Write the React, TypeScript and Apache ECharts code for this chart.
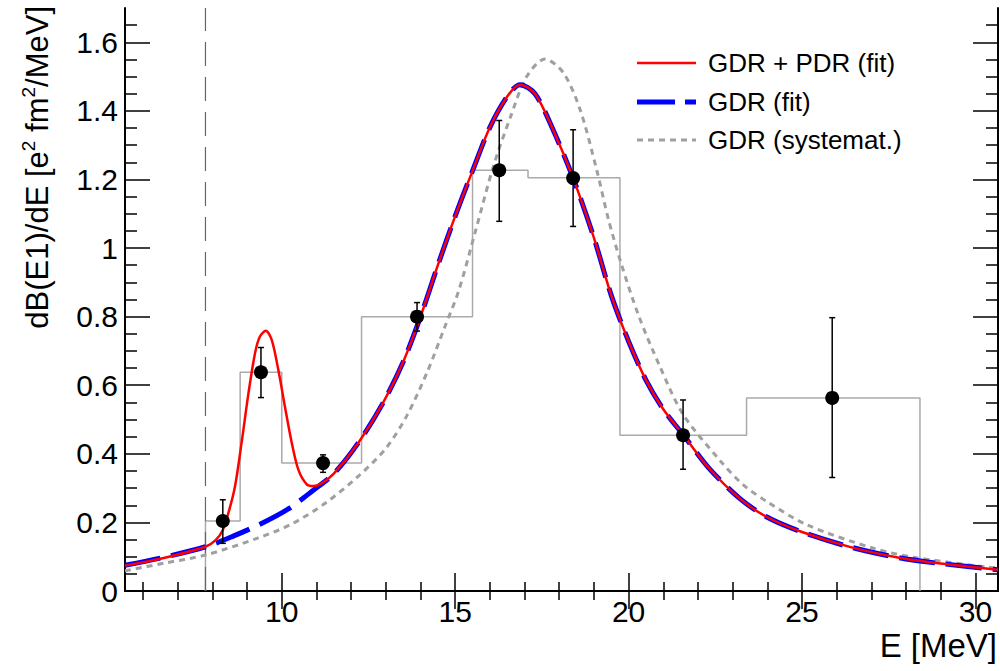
import React, { useEffect, useRef } from "react";
import * as echarts from "echarts";

const X_MIN = 5.48;
const X_MAX = 30.65;
const Y_MIN = 0;
const Y_MAX = 1.7;

const xMajorTicks = [10, 15, 20, 25, 30];
const xMinorTicks = [6, 7, 8, 9, 11, 12, 13, 14, 16, 17, 18, 19, 21, 22, 23, 24, 26, 27, 28, 29];
const yMajorTicks = [0, 0.2, 0.4, 0.6, 0.8, 1, 1.2, 1.4, 1.6];
const yMinorTicks = [0.05, 0.1, 0.15, 0.25, 0.3, 0.35, 0.45, 0.5, 0.55, 0.65, 0.7, 0.75, 0.85, 0.9, 0.95, 1.05, 1.1, 1.15, 1.25, 1.3, 1.35, 1.45, 1.5, 1.55, 1.65];

// Histogram (bin edges and contents)
const binEdges = [7.8, 8.8, 10.0, 12.3, 15.5, 17.1, 19.75, 23.4, 28.4];
const binValues = [0.204, 0.638, 0.373, 0.8, 1.227, 1.205, 0.454, 0.563];

// Data points with error bars
const pointE = [8.3, 9.4, 11.19, 13.9, 16.27, 18.4, 21.57, 25.87];
const pointV = [0.204, 0.638, 0.373, 0.8, 1.227, 1.204, 0.454, 0.563];
const errLow = [0.139, 0.564, 0.346, 0.758, 1.078, 1.063, 0.355, 0.331];
const errHigh = [0.266, 0.71, 0.397, 0.841, 1.372, 1.345, 0.557, 0.797];

// Threshold energy (vertical dashed line)
const thresholdE = 7.8;

// GDR (fit)
const gdrE = [5.48, 6.5, 7.8, 8.6, 9.4, 10.2, 10.9, 11.5, 12.2, 12.9, 13.5, 14.0, 14.5, 15.0, 15.5, 16.0, 16.5, 16.87, 17.3, 17.8, 18.4, 19.0, 19.5, 20.0, 20.5, 21.0, 21.6, 22.3, 23.2, 24.0, 25.0, 26.4, 27.8, 29.0, 30.65];
const gdrV = [0.075, 0.096, 0.129, 0.16, 0.196, 0.24, 0.293, 0.342, 0.431, 0.545, 0.668, 0.8, 0.95, 1.093, 1.225, 1.352, 1.442, 1.4765, 1.45, 1.35, 1.204, 1.03, 0.862, 0.728, 0.615, 0.53, 0.452, 0.36, 0.27, 0.215, 0.172, 0.128, 0.097, 0.08, 0.062];

// GDR + PDR (fit)
const totE = [5.48, 6.5, 7.8, 8.1, 8.3, 8.46, 8.65, 8.84, 9.04, 9.23, 9.37, 9.54, 9.71, 9.9, 10.09, 10.29, 10.48, 10.72, 10.91, 11.15, 11.5, 12.2, 12.9, 13.5, 14.0, 14.5, 15.0, 15.5, 16.0, 16.5, 16.87, 17.3, 17.8, 18.4, 19.0, 19.5, 20.0, 20.5, 21.0, 21.6, 22.3, 23.2, 24.0, 25.0, 26.4, 27.8, 29.0, 30.65];
const totV = [0.074, 0.094, 0.129, 0.149, 0.178, 0.227, 0.304, 0.431, 0.577, 0.694, 0.742, 0.759, 0.732, 0.645, 0.538, 0.431, 0.353, 0.311, 0.306, 0.314, 0.342, 0.431, 0.545, 0.668, 0.8, 0.95, 1.093, 1.225, 1.352, 1.442, 1.4765, 1.45, 1.35, 1.204, 1.03, 0.862, 0.728, 0.615, 0.53, 0.452, 0.36, 0.27, 0.215, 0.172, 0.128, 0.097, 0.08, 0.062];

// GDR (systematics)
const sysE = [5.48, 6.6, 7.8, 9.3, 10.3, 11.25, 12.2, 13.0, 13.6, 14.2, 14.7, 15.1, 15.6, 16.1, 16.6, 17.06, 17.59, 18.12, 18.6, 19.08, 19.42, 19.8, 20.3, 20.9, 21.57, 22.64, 23.3, 24.0, 25.14, 27.06, 28.3, 30.65];
const sysV = [0.059, 0.081, 0.105, 0.154, 0.196, 0.256, 0.334, 0.416, 0.51, 0.64, 0.77, 0.875, 1.055, 1.238, 1.384, 1.5, 1.551, 1.511, 1.404, 1.228, 1.083, 0.95, 0.8, 0.655, 0.515, 0.38, 0.31, 0.26, 0.193, 0.1245, 0.097, 0.066];

const legendLabels = ["GDR + PDR (fit)", "GDR (fit)", "GDR (systemat.)"];

const FONT = '"Liberation Sans", Arial, Helvetica, sans-serif';

export default function App() {
  const ref = useRef<HTMLDivElement>(null);

  useEffect(() => {
    if (!ref.current) return;
    const chart = echarts.init(ref.current, undefined, { renderer: "svg" });

    const histData: number[][] = [[binEdges[0], 0]];
    for (let i = 0; i < binValues.length; i++) {
      histData.push([binEdges[i], binValues[i]]);
      histData.push([binEdges[i + 1], binValues[i]]);
    }
    histData.push([binEdges[binEdges.length - 1], 0]);

    const tickStyle = { color: "#000", width: 1.5 };
    const baseX = { type: "value", min: X_MIN, max: X_MAX, splitLine: { show: false } };
    const baseY = { type: "value", min: Y_MIN, max: Y_MAX, splitLine: { show: false } };

    const legendY = [63, 102, 140];
    const legendStyles = [
      { stroke: "#ff0000", lineWidth: 2.5 },
      { stroke: "#0000ff", lineWidth: 5, lineDash: [38, 10] },
      { stroke: "#a0a0a0", lineWidth: 3, lineDash: [6, 5] },
    ];
    const legendGraphics: any[] = [];
    legendLabels.forEach((lab, i) => {
      legendGraphics.push({
        type: "line",
        shape: { x1: 637, y1: legendY[i], x2: 696, y2: legendY[i] },
        style: legendStyles[i],
        z: 100,
      });
      legendGraphics.push({
        type: "text",
        x: 708,
        y: legendY[i],
        style: { text: lab, fontSize: 26, fontFamily: FONT, fill: "#000", verticalAlign: "middle", align: "left" },
        z: 100,
      });
    });

    const option: any = {
      animation: false,
      grid: { left: 125, right: 2, top: 8, bottom: 80, containLabel: false },
      xAxis: [
        {
          ...baseX,
          position: "bottom",
          axisLine: { show: true, lineStyle: { color: "#000", width: 2 } },
          axisTick: { show: true, inside: true, length: 18, customValues: xMajorTicks, lineStyle: tickStyle },
          axisLabel: { show: true, customValues: xMajorTicks, fontSize: 30, fontFamily: FONT, color: "#000", margin: 5 },
        },
        {
          ...baseX,
          position: "bottom",
          axisLine: { show: false },
          axisTick: { show: true, inside: true, length: 9, customValues: xMinorTicks, lineStyle: tickStyle },
          axisLabel: { show: false },
        },
        {
          ...baseX,
          position: "top",
          axisLine: { show: true, lineStyle: { color: "#000", width: 2 } },
          axisTick: { show: true, inside: true, length: 18, customValues: xMajorTicks, lineStyle: tickStyle },
          axisLabel: { show: false },
        },
        {
          ...baseX,
          position: "top",
          axisLine: { show: false },
          axisTick: { show: true, inside: true, length: 9, customValues: xMinorTicks, lineStyle: tickStyle },
          axisLabel: { show: false },
        },
      ],
      yAxis: [
        {
          ...baseY,
          position: "left",
          axisLine: { show: true, lineStyle: { color: "#000", width: 2 } },
          axisTick: { show: true, inside: true, length: 25, customValues: yMajorTicks, lineStyle: tickStyle },
          axisLabel: {
            show: true,
            customValues: yMajorTicks,
            fontSize: 30,
            fontFamily: FONT,
            color: "#000",
            margin: 7,
            formatter: (v: number) => String(v),
          },
        },
        {
          ...baseY,
          position: "left",
          axisLine: { show: false },
          axisTick: { show: true, inside: true, length: 12, customValues: yMinorTicks, lineStyle: tickStyle },
          axisLabel: { show: false },
        },
        {
          ...baseY,
          position: "right",
          axisLine: { show: true, lineStyle: { color: "#000", width: 2 } },
          axisTick: { show: true, inside: true, length: 25, customValues: yMajorTicks, lineStyle: tickStyle },
          axisLabel: { show: false },
        },
        {
          ...baseY,
          position: "right",
          axisLine: { show: false },
          axisTick: { show: true, inside: true, length: 12, customValues: yMinorTicks, lineStyle: tickStyle },
          axisLabel: { show: false },
        },
      ],
      graphic: [
        {
          type: "text",
          x: 36,
          y: 6,
          rotation: Math.PI / 2,
          style: {
            text: "{n|dB(E1)/dE [e}{s|2}{n| fm}{s|2}{n|/MeV]}",
            align: "right",
            verticalAlign: "middle",
            fill: "#000",
            rich: {
              n: { fontSize: 31, fontFamily: FONT, fill: "#000", lineHeight: 34, verticalAlign: "bottom" },
              s: { fontSize: 19, fontFamily: FONT, fill: "#000", lineHeight: 34, verticalAlign: "top" },
            },
          },
        },
        {
          type: "text",
          right: 3,
          top: 629,
          style: { text: "E [MeV]", fontSize: 33, fontFamily: FONT, fill: "#000" },
        },
        ...legendGraphics,
      ],
      series: [
        {
          type: "line",
          name: "hist",
          data: histData,
          showSymbol: false,
          symbol: "none",
          lineStyle: { color: "#aaaaaa", width: 1.5 },
          z: 1,
        },
        {
          type: "line",
          name: "threshold",
          data: [[thresholdE, Y_MIN], [thresholdE, Y_MAX]],
          symbol: "none",
          lineStyle: { color: "#666666", width: 1.2, type: [24, 11] },
          z: 2,
        },
        {
          type: "line",
          name: legendLabels[2],
          data: sysE.map((e, i) => [e, sysV[i]]),
          symbol: "none",
          smooth: 0.3,
          lineStyle: { color: "#a0a0a0", width: 3, type: [6, 5] },
          z: 3,
        },
        {
          type: "line",
          name: legendLabels[1],
          data: gdrE.map((e, i) => [e, gdrV[i]]),
          symbol: "none",
          smooth: 0.3,
          lineStyle: { color: "#0000ff", width: 5, type: [36, 11] },
          z: 4,
        },
        {
          type: "line",
          name: legendLabels[0],
          data: totE.map((e, i) => [e, totV[i]]),
          symbol: "none",
          smooth: 0.3,
          lineStyle: { color: "#ff0000", width: 2.5 },
          z: 5,
        },
        {
          type: "custom",
          name: "errors",
          data: pointE.map((e, i) => [e, errLow[i], errHigh[i]]),
          encode: { x: 0, y: [1, 2] },
          renderItem: (params: any, api: any) => {
            const x = api.value(0);
            const a = api.coord([x, api.value(1)]);
            const b = api.coord([x, api.value(2)]);
            const st = { stroke: "#000", lineWidth: 1.5 };
            return {
              type: "group",
              children: [
                { type: "line", shape: { x1: a[0], y1: a[1], x2: b[0], y2: b[1] }, style: st },
                { type: "line", shape: { x1: a[0] - 3, y1: a[1], x2: a[0] + 3, y2: a[1] }, style: st },
                { type: "line", shape: { x1: b[0] - 3, y1: b[1], x2: b[0] + 3, y2: b[1] }, style: st },
              ],
            };
          },
          z: 6,
        },
        {
          type: "scatter",
          name: "data",
          data: pointE.map((e, i) => [e, pointV[i]]),
          symbol: "circle",
          symbolSize: 14,
          itemStyle: { color: "#000", opacity: 1 },
          z: 7,
        },
      ],
    };

    chart.setOption(option);
    return () => chart.dispose();
  }, []);

  return (
    <div
      ref={ref}
      style={{ position: "absolute", left: 0, top: 0, width: 1000, height: 671, background: "#fff" }}
    />
  );
}
